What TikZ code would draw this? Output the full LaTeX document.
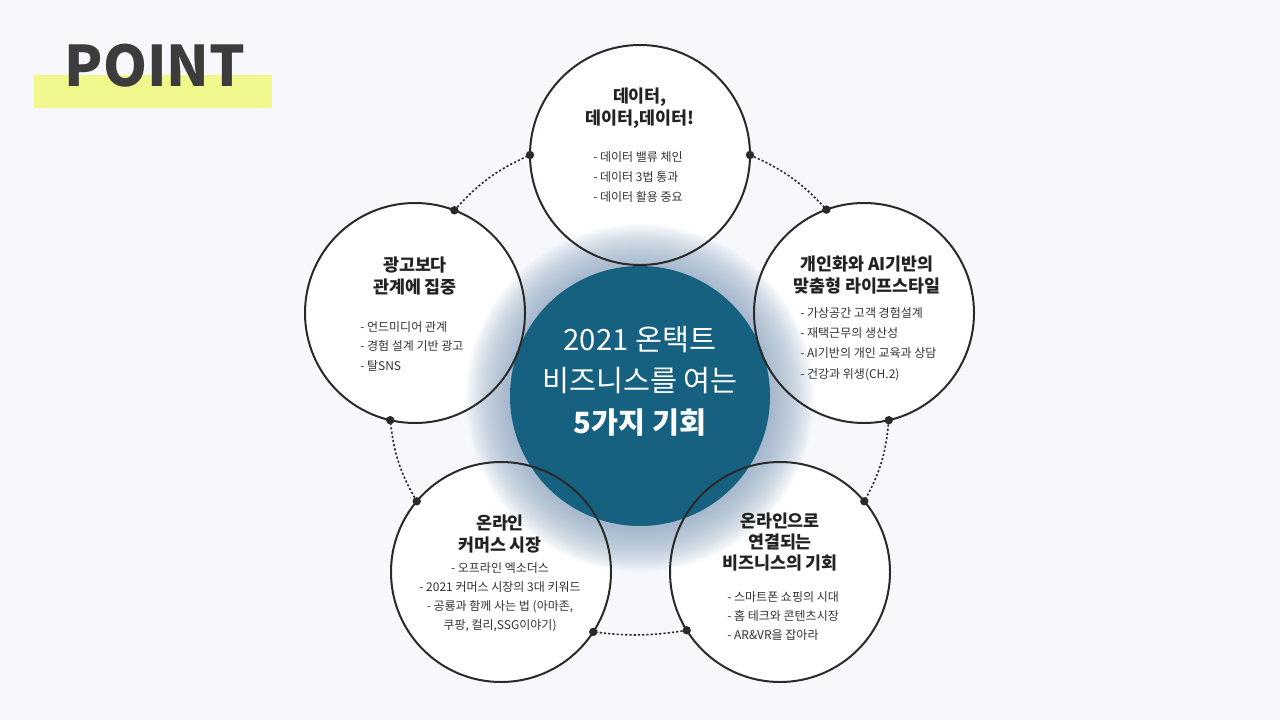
\documentclass[tikz,border=0pt]{standalone}
\usepackage{fontspec}
\setmainfont{Noto Sans CJK KR}
\definecolor{bg}{HTML}{F7F8FC}
\definecolor{hl}{RGB}{240,247,140}
\definecolor{pointc}{HTML}{3C3C3C}
\definecolor{bluec}{HTML}{166080}
\definecolor{glowc}{HTML}{8FA8C2}
\definecolor{linec}{HTML}{2A2A2A}
\definecolor{titlec}{HTML}{222222}
\definecolor{itemc}{HTML}{333333}
\begin{document}
\begin{tikzpicture}[x=0.75pt,y=-0.75pt,
  outer/.style={circle, draw=linec, line width=1.5pt, minimum size=165pt, inner sep=0pt, outer sep=0pt},
  ttl/.style={font=\bfseries\fontsize{13}{17}\selectfont, text=titlec, align=center, inner sep=0pt},
  itm/.style={font=\fontsize{9}{15}\selectfont, text=itemc, align=left, inner sep=0pt, anchor=west},
  conn/.style={draw=linec, line width=1.2pt, dash pattern=on 1.6pt off 1.6pt}]
\useasboundingbox (0,0) rectangle (1280,720);
\fill[bg] (0,0) rectangle (1280,720);
% header
\fill[hl] (34,75) rectangle (272,108);
\node[font=\bfseries\fontsize{42}{42}\selectfont, text=pointc, inner sep=0pt] (pt) at (155,66) {POINT};
% white fills of outer circles
\fill[white] (640,155) circle (110);
\fill[white] (864,313) circle (110);
\fill[white] (780,572) circle (110);
\fill[white] (501,572) circle (110);
\fill[white] (415,313) circle (110);
% glow
\foreach \i in {0,...,22}
  \fill[glowc, opacity=0.055] (640,398) circle (130+2*\i);
% centre
\node[circle, fill=bluec, minimum size=195pt, inner sep=0pt, outer sep=0pt] (C) at (640,396) {};
% outer circles
\node[outer] (T) at (640,155) {};
\node[outer] (R) at (864,313) {};
\node[outer] (BR) at (780,572) {};
\node[outer] (BL) at (501,572) {};
\node[outer] (L) at (415,313) {};
% connectors
\draw[conn] (T.0) to[bend left=12] (R.110);
\draw[conn] (R.-77) to[bend left=12] (BR.40);
\draw[conn] (BR.212) to[bend left=8] (BL.-33);
\draw[conn] (BL.140) to[bend left=12] (L.257);
\draw[conn] (L.69) to[bend left=12] (T.180);
\foreach \p in {T.0,T.180,R.110,R.-77,BR.40,BR.212,BL.-33,BL.140,L.257,L.69}
  \fill[linec] (\p) circle (4.2);
% texts
\node[font=\fontsize{22}{31}\selectfont, text=white, align=center, inner sep=0pt] (Ct) at (640,381)
  {2021 온택트\\비즈니스를 여는\\{\bfseries 5가지 기회}};
\node[ttl] (Tt) at (640,108) {데이터,\\데이터,데이터!};
\node[itm] (Ti) at (593,177) {- 데이터 밸류 체인\\- 데이터 3법 통과\\- 데이터 활용 중요};
\node[ttl] (Rt) at (867,275) {개인화와 AI기반의\\맞춤형 라이프스타일};
\node[itm, font=\fontsize{9}{15.2}\selectfont] (Ri) at (800,344) {- 가상공간 고객 경험설계\\- 재택근무의 생산성\\- AI기반의 개인 교육과 상담\\- 건강과 위생(CH.2)};
\node[ttl] (Lt) at (415,276) {광고보다\\관계에 집중};
\node[itm, font=\fontsize{9}{14.6}\selectfont] (Li) at (360,346) {- 언드미디어 관계\\- 경험 설계 기반 광고\\- 탈SNS};
\node[ttl] (BLt) at (500,534) {온라인\\커머스 시장};
\node[itm, align=center, anchor=center, font=\fontsize{9}{14.3}\selectfont] (BLi) at (500,597) {- 오프라인 엑소더스\\- 2021 커머스 시장의 3대 키워드\\- 공룡과 함께 사는 법 (아마존,\\쿠팡, 컬리,SSG이야기)};
\node[ttl, font=\bfseries\fontsize{13}{16}\selectfont] (BRt) at (780,542) {온라인으로\\연결되는\\비즈니스의 기회};
\node[itm, font=\fontsize{9}{14.3}\selectfont] (BRi) at (727,616) {- 스마트폰 쇼핑의 시대\\- 홈 테크와 콘텐츠시장\\- AR\&VR을 잡아라};
\end{tikzpicture}
\end{document}
